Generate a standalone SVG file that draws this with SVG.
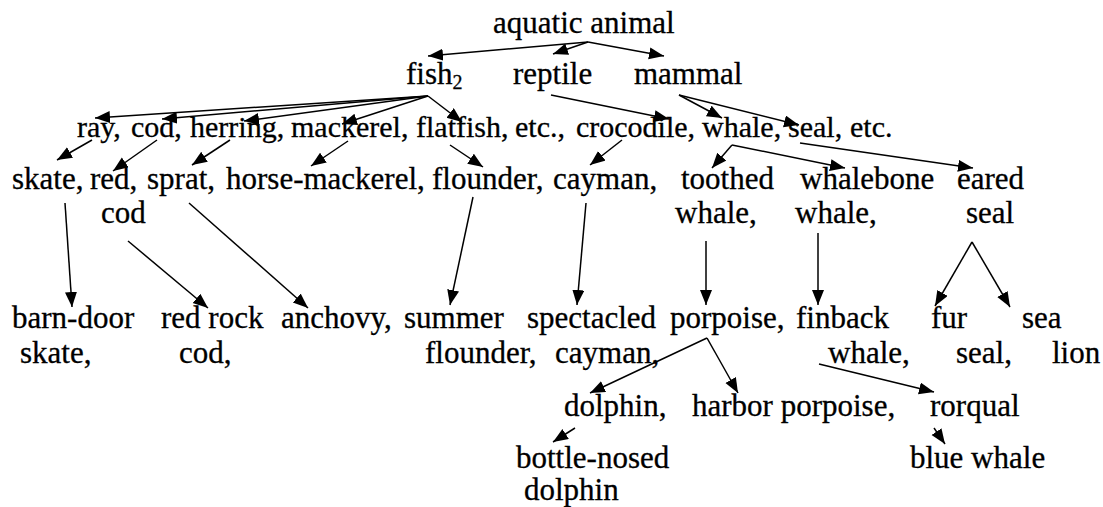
<svg xmlns="http://www.w3.org/2000/svg" width="1103" height="507" viewBox="0 0 1103 507">
<style>
.c line{stroke:#000;stroke-width:1.5;marker-end:url(#ah)}
.t text{stroke:#000;stroke-width:0.3}
.r2 text{font-size:30px}
</style>
<defs>
<marker id="ah" markerUnits="userSpaceOnUse" markerWidth="16" markerHeight="13" refX="15" refY="6" orient="auto">
<path d="M0,0 L15,6 L0,12 z" fill="#000"/>
</marker>
</defs>
<rect width="1103" height="507" fill="#fff"/>
<g class="t" font-family="'Liberation Serif', 'DejaVu Serif', serif" font-size="31" fill="#000">
<g id="n-aquatic"><text x="493" y="33">aquatic animal</text></g>
<g id="n-fish"><text x="406" y="84">fish<tspan font-size="20" dy="5">2</tspan></text></g>
<g id="n-reptile"><text x="513" y="84">reptile</text></g>
<g id="n-mammal"><text x="634" y="84">mammal</text></g>
<g class="r2">
<g id="n-ray"><text x="77" y="137">ray,</text></g>
<g id="n-cod"><text x="131" y="137">cod,</text></g>
<g id="n-herring"><text x="190" y="137">herring,</text></g>
<g id="n-mackerel"><text x="291" y="137">mackerel,</text></g>
<g id="n-flatfish"><text x="416" y="137">flatfish,</text></g>
<g id="n-etc1"><text x="515" y="137">etc.,</text></g>
<g id="n-crocodile"><text x="576" y="137">crocodile,</text></g>
<g id="n-whale"><text x="702" y="137">whale,</text></g>
<g id="n-seal"><text x="788" y="137">seal,</text></g>
<g id="n-etc2"><text x="850" y="137">etc.</text></g>
</g>
<g id="n-skate"><text x="12" y="189">skate,</text></g>
<g id="n-redcod"><text x="90" y="189">red,</text><text x="101" y="223">cod</text></g>
<g id="n-sprat"><text x="147" y="189">sprat,</text></g>
<g id="n-horsemackerel"><text x="226" y="189">horse-mackerel,</text></g>
<g id="n-flounder"><text x="432" y="189">flounder,</text></g>
<g id="n-cayman"><text x="553" y="189">cayman,</text></g>
<g id="n-toothed"><text x="681" y="189">toothed</text><text x="675" y="223">whale,</text></g>
<g id="n-whalebone"><text x="800" y="189">whalebone</text><text x="795" y="223">whale,</text></g>
<g id="n-eared"><text x="957" y="189">eared</text><text x="966" y="223">seal</text></g>
<g id="n-barndoor"><text x="12" y="328">barn-door</text><text x="20" y="363">skate,</text></g>
<g id="n-redrock"><text x="161" y="328">red rock</text><text x="179" y="363">cod,</text></g>
<g id="n-anchovy"><text x="281" y="328">anchovy,</text></g>
<g id="n-summer"><text x="404" y="328">summer</text><text x="425" y="363">flounder,</text></g>
<g id="n-spectacled"><text x="527" y="328">spectacled</text><text x="555" y="363">cayman,</text></g>
<g id="n-porpoise"><text x="670" y="328">porpoise,</text></g>
<g id="n-finback"><text x="796" y="328">finback</text><text x="828" y="363">whale,</text></g>
<g id="n-fur"><text x="931" y="328">fur</text><text x="956" y="363">seal,</text></g>
<g id="n-sealion"><text x="1022" y="328">sea</text><text x="1052" y="363">lion</text></g>
<g id="n-dolphin"><text x="564" y="416">dolphin,</text></g>
<g id="n-harbor"><text x="692" y="416">harbor porpoise,</text></g>
<g id="n-rorqual"><text x="930" y="416">rorqual</text></g>
<g id="n-bottlenosed"><text x="516" y="468">bottle-nosed</text><text x="524" y="500">dolphin</text></g>
<g id="n-bluewhale"><text x="910" y="468">blue whale</text></g>
</g>
<g id="connectors" class="c">
<line x1="588" y1="42" x2="428" y2="56"/>
<line x1="588" y1="42" x2="553" y2="54"/>
<line x1="588" y1="42" x2="664" y2="56"/>
<line x1="428" y1="96" x2="95" y2="118"/>
<line x1="428" y1="96" x2="162" y2="119"/>
<line x1="428" y1="96" x2="244" y2="121"/>
<line x1="428" y1="96" x2="342" y2="124"/>
<line x1="428" y1="96" x2="462" y2="122"/>
<line x1="551" y1="95" x2="669" y2="119"/>
<line x1="679" y1="95" x2="722" y2="118"/>
<line x1="679" y1="95" x2="799" y2="125"/>
<line x1="92" y1="140" x2="57" y2="160"/>
<line x1="157" y1="140" x2="113" y2="171"/>
<line x1="230" y1="140" x2="192" y2="165"/>
<line x1="348" y1="141" x2="311" y2="166"/>
<line x1="450" y1="145" x2="483" y2="167"/>
<line x1="622" y1="140" x2="590" y2="165"/>
<line x1="732" y1="145" x2="712" y2="168"/>
<line x1="732" y1="145" x2="845" y2="168"/>
<line x1="800" y1="143" x2="973" y2="168"/>
<line x1="65" y1="203" x2="72" y2="307"/>
<line x1="128" y1="241" x2="208" y2="308"/>
<line x1="189" y1="203" x2="308" y2="308"/>
<line x1="473" y1="197" x2="450" y2="305"/>
<line x1="586" y1="203" x2="577" y2="305"/>
<line x1="706" y1="241" x2="706" y2="305"/>
<line x1="818" y1="233" x2="818" y2="305"/>
<line x1="972" y1="242" x2="935" y2="306"/>
<line x1="972" y1="242" x2="1010" y2="307"/>
<line x1="707" y1="338" x2="590" y2="393"/>
<line x1="707" y1="338" x2="738" y2="393"/>
<line x1="819" y1="364" x2="934" y2="392"/>
<line x1="575" y1="428" x2="553" y2="442"/>
<line x1="934" y1="428" x2="945" y2="444"/>
</g>
</svg>
